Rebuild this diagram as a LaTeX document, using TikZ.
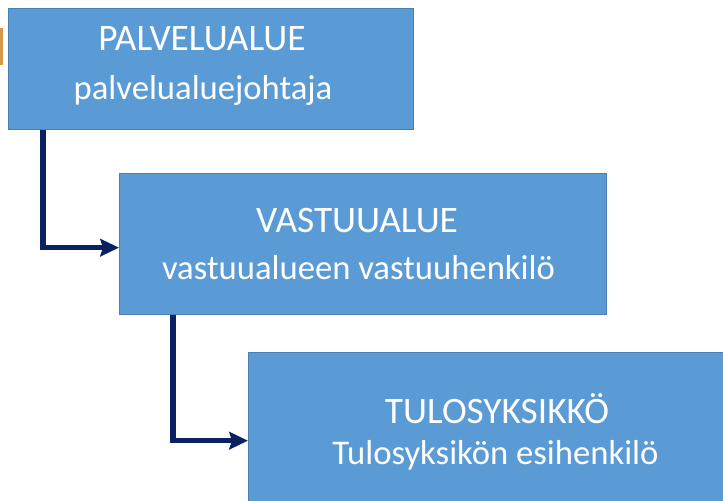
\documentclass[tikz,border=0pt]{standalone}
\usepackage{fontspec}
\setmainfont{Carlito}
\usetikzlibrary{arrows.meta,positioning,calc}
\definecolor{boxfill}{HTML}{5B9BD5}
\definecolor{boxline}{HTML}{4A7EB5}
\definecolor{navy}{HTML}{0A2263}
\definecolor{orangebit}{HTML}{D9954A}
\tikzset{
  orgbox/.style={draw=boxline, line width=1pt, fill=boxfill, inner sep=0pt},
  title/.style={text=white, font=\fontsize{28}{32}\selectfont, anchor=base, inner sep=0pt},
  sub/.style={text=white, font=\fontsize{26}{30}\selectfont, anchor=base, inner sep=0pt},
  conn/.style={draw=navy, line width=3.8pt, -{Stealth[length=14pt,width=13pt,inset=2pt]}}
}
\begin{document}
\begin{tikzpicture}[x=0.75pt,y=-0.75pt]
\useasboundingbox (0,0) rectangle (723,500);
\clip (0,0) rectangle (723,500);
\fill[orangebit] (0,28) rectangle (2.5,65);
% boxes
\node[orgbox, minimum width=405*0.75pt, minimum height=121*0.75pt, anchor=north west] (b1) at (8,7.5) {};
\node[orgbox, minimum width=487*0.75pt, minimum height=141*0.75pt, anchor=north west] (b2) at (119,173) {};
\node[orgbox, minimum width=500*0.75pt, minimum height=176*0.75pt, anchor=north west] (b3) at (248,352) {};
% texts
\node[title] (t1) at (202,50) {PALVELUALUE};
\node[sub] (s1) at (203,99) {palvelualuejohtaja};
\node[title] (t2) at (357,232) {VASTUUALUE};
\node[sub] (s2) at (358.5,279) {vastuualueen vastuuhenkilö};
\node[title] (t3) at (497,423) {TULOSYKSIKKÖ};
\node[sub] (s3) at (495.5,464) {Tulosyksikön esihenkilö};
% connectors
\coordinate (c1) at ($(b1.south west)+(35,0)$);
\coordinate (c2) at ($(b2.south west)+(54,0)$);
\draw[conn] (c1) |- ($(b2.west)+(0,3.5)$);
\draw[conn] (c2) |- (b3.west);
\end{tikzpicture}
\end{document}
